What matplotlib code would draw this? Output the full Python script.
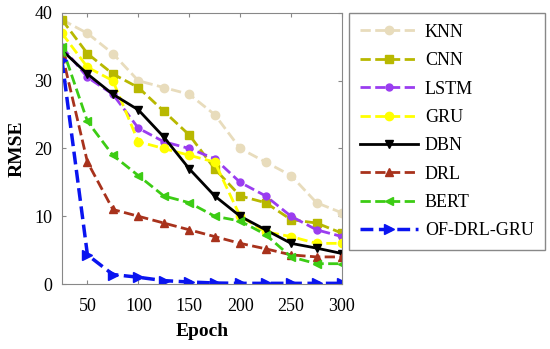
import matplotlib
matplotlib.use('Agg')
import matplotlib.pyplot as plt

# data
epochs = [25, 50, 75, 100, 125, 150, 175, 200, 225, 250, 275, 300]
knn = [39, 37, 34, 30, 29, 28, 25, 20, 18, 16, 12, 10.5]
cnn = [39, 34, 31, 29, 25.5, 22, 17, 13, 12, 9.5, 9, 7.5]
lstm = [35, 30.5, 28, 23, 21, 20, 18.5, 15, 13, 10, 8, 7]
gru = [37, 32, 30, 21, 20, 19, 18, 10, 7.7, 7, 6, 6]
dbn = [34.5, 31, 28, 25.7, 21.7, 17, 13, 10, 8, 6, 5.3, 4.5]
drl = [34, 18, 11, 10, 9, 8, 7, 6, 5.2, 4.3, 4, 4]
bert = [35, 24, 19, 16, 13, 12, 10, 9.3, 7.3, 4, 3, 3]
ours = [33, 4.3, 1.4, 1.0, 0.5, 0.3, 0.15, 0.1, 0.1, 0.1, 0.1, 0.1]

plt.rcParams['font.family'] = ['Liberation Serif', 'DejaVu Serif']

fig = plt.figure(figsize=(5.5, 3.49), dpi=100)
ax = fig.add_axes([0.1127, 0.1862, 0.5091, 0.7766])

ax.plot(epochs, knn, '--o', color='#e8dcbc', lw=2, ms=6, label='KNN')
ax.plot(epochs, cnn, '--s', color='#b8b800', lw=2, ms=6, label='CNN')
ax.plot(epochs, lstm, '--o', color='#9a3df0', lw=2, ms=5, label='LSTM')
ax.plot(epochs, gru, '--o', color='#ffff00', lw=2, ms=6, label='GRU')
ax.plot(epochs, dbn, '-v', color='black', lw=2, ms=6, label='DBN')
ax.plot(epochs, drl, '--^', color='#a8321c', lw=2, ms=6, label='DRL')
ax.plot(epochs, bert, '--<', color='#3ccc14', lw=2, ms=6, label='BERT')
ax.plot(epochs, ours, '-->', color='#0a14f0', lw=2.5, ms=7, label='OF-DRL-GRU')

ax.set_xlim(25, 300)
ax.set_ylim(0, 40)
ax.set_xticks([50, 100, 150, 200, 250, 300])
ax.set_yticks([0, 10, 20, 30, 40])
ax.tick_params(direction='in', top=True, right=True, labelsize=13, length=3,
               color='#888888', pad=7)
ax.tick_params(axis='x', pad=10)
for s in ax.spines.values():
    s.set_color('#888888')
ax.set_xlabel('Epoch', fontsize=14, fontweight='bold', labelpad=6)
ax.set_ylabel('RMSE', fontsize=14, fontweight='bold', labelpad=6)

leg = fig.legend(loc='upper left', bbox_to_anchor=(0.6345, 0.9628), fontsize=13,
                 handlelength=3.2, labelspacing=0.63, fancybox=False, framealpha=1,
                 edgecolor='#888888', borderpad=0.6, handletextpad=0.4,
                 borderaxespad=0)
leg.get_frame().set_linewidth(1)

fig.savefig('out.png', dpi=100)
